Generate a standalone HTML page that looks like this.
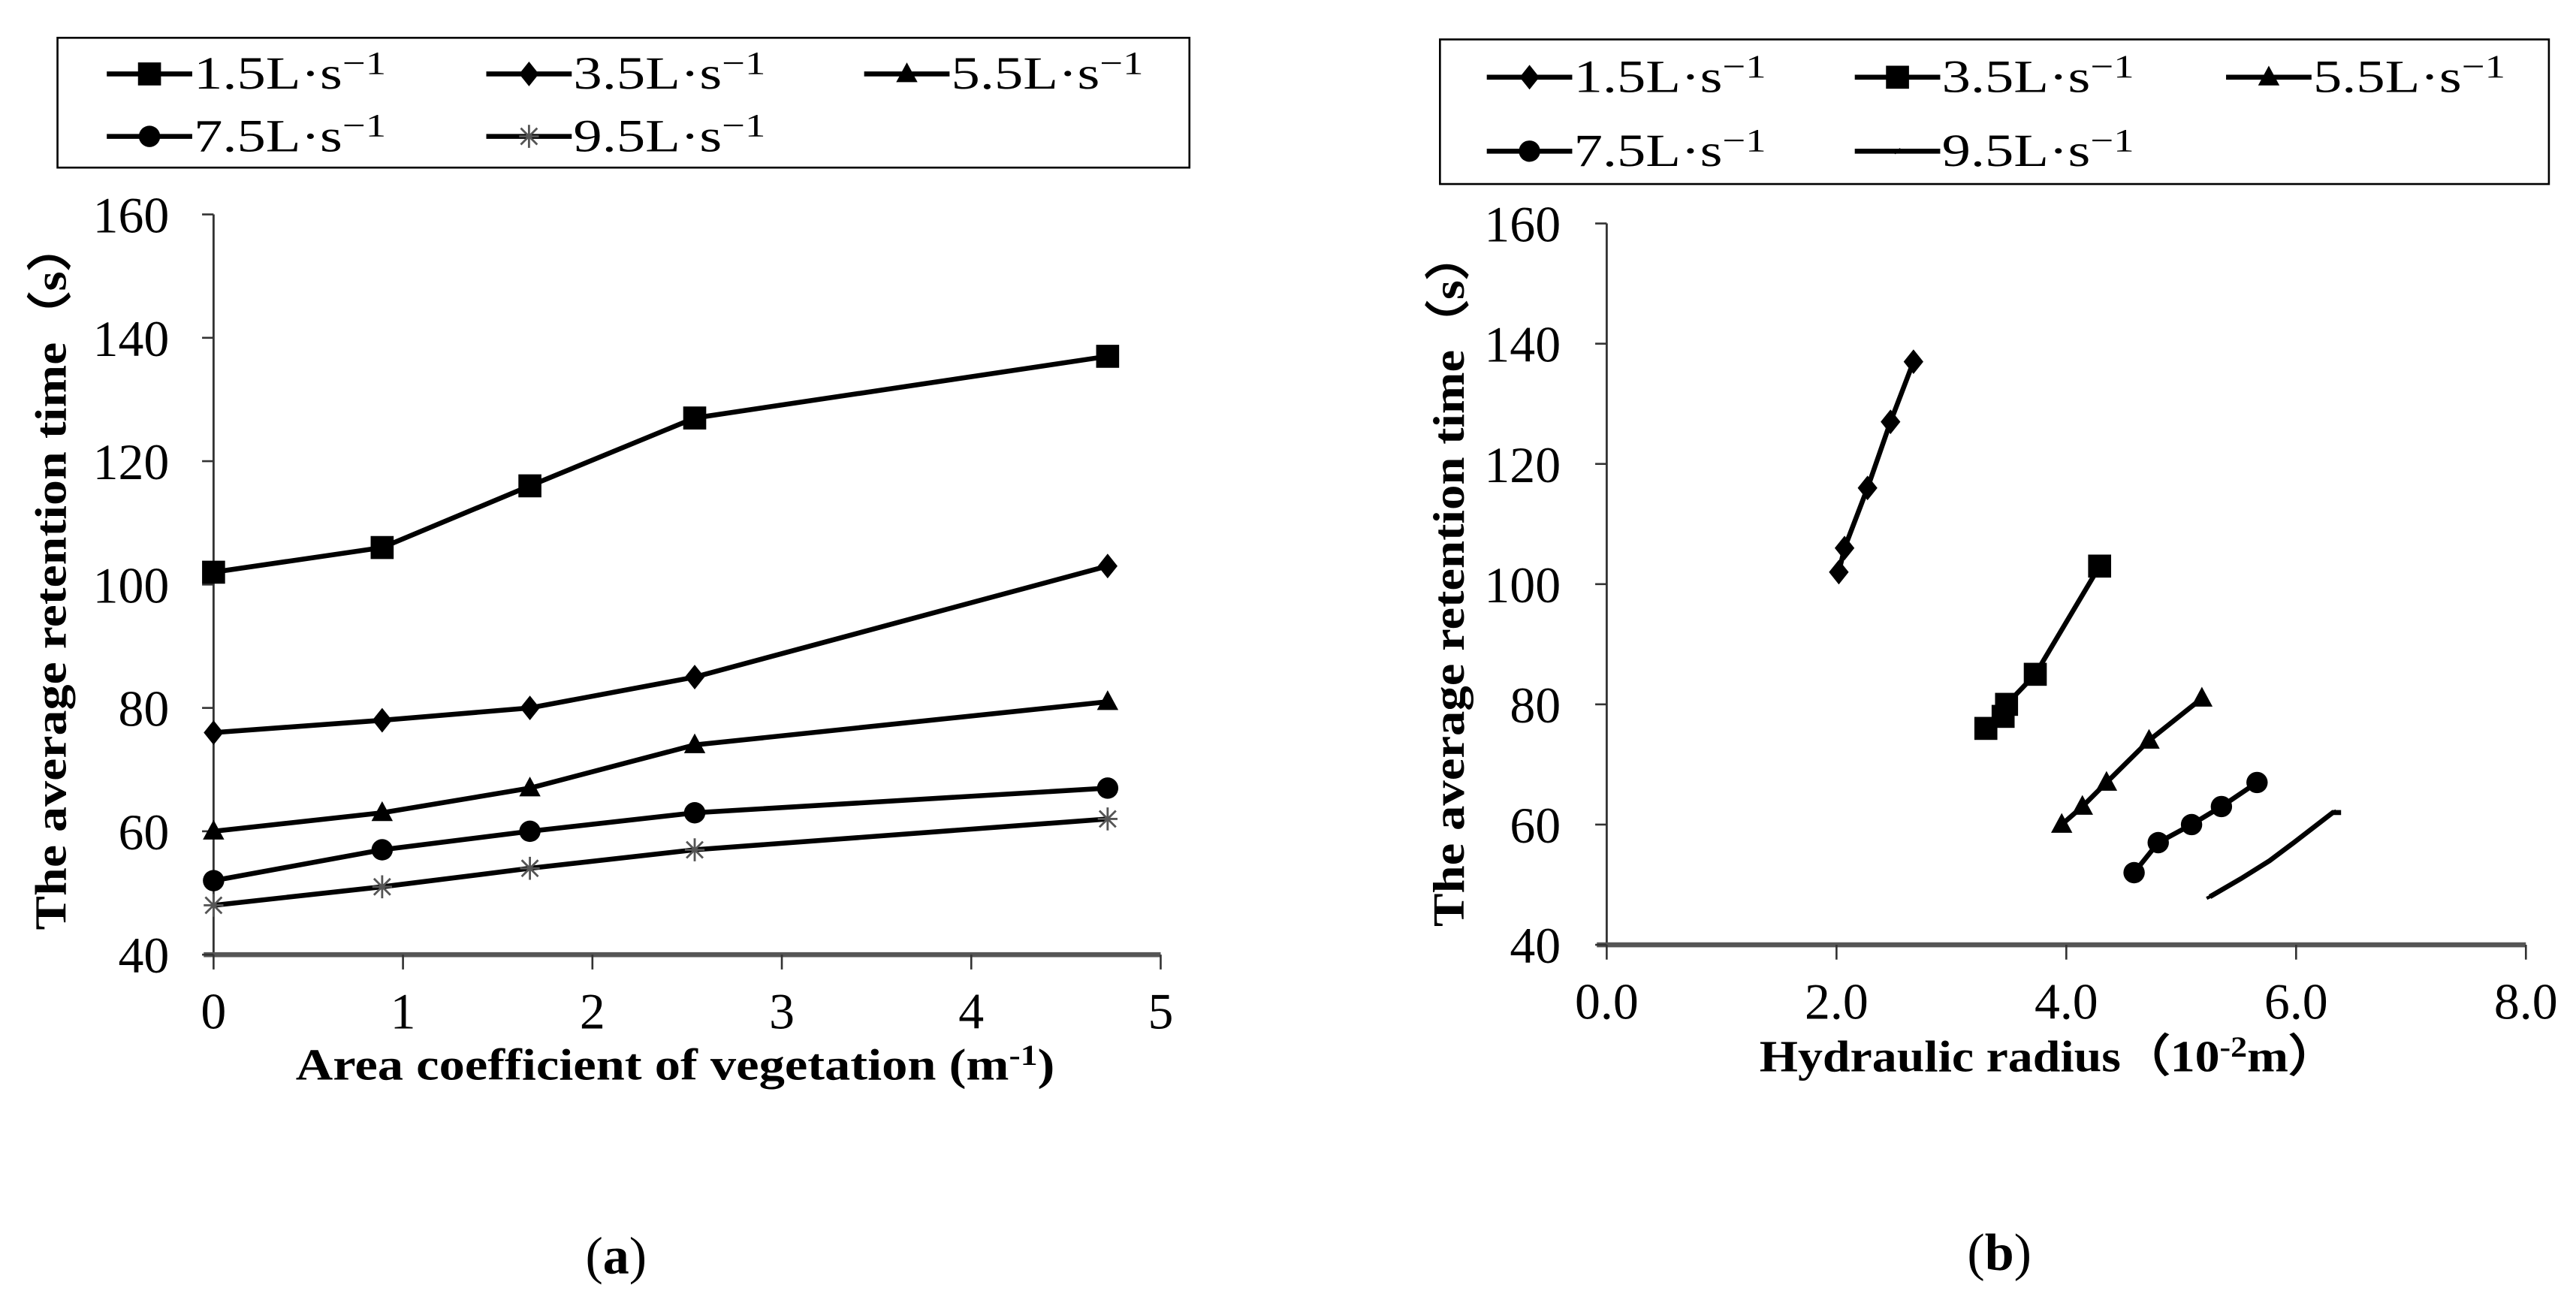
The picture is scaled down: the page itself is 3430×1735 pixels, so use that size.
<!DOCTYPE html>
<html><head><meta charset="utf-8"><style>
html,body{margin:0;padding:0;background:#fff;}
svg{display:block;}
text{font-family:"Liberation Serif",serif;fill:#000;}
</style></head><body>
<svg id="fig" width="3430" height="1735" viewBox="0 0 1568 793" preserveAspectRatio="none" xmlns="http://www.w3.org/2000/svg">
<g id="pa"></g>
<g id="pb"></g>
<text x="375" y="775" font-size="32" text-anchor="middle">(<tspan font-weight="bold">a</tspan>)</text>
<text x="1217" y="773" font-size="32" text-anchor="middle">(<tspan font-weight="bold">b</tspan>)</text>
</svg>
<script>
const NS="http://www.w3.org/2000/svg";
// ---- data chart a ----
const aCoef=[0,0.89,1.67,2.54,4.72];
const aS15=[102,106,116,127,137];
const aS35=[76,78,80,85,103];
const aS55=[60,63,67,74,81];
const aS75=[52,57,60,63,67];
const aS95=[48,51,54,57,62];
const aXTicks=["0","1","2","3","4","5"];
const yTicks=["40","60","80","100","120","140","160"];
// ---- data chart b ----
const bX15=[2.02,2.07,2.27,2.47,2.67];
const bX35=[3.30,3.45,3.48,3.73,4.29];
const bX55=[3.96,4.14,4.35,4.72,5.18];
const bX75=[4.59,4.80,5.09,5.35,5.66];
const bX95=[5.25,5.52,5.77,5.98,6.32];
const bY15=[102,106,116,127,137];
const bY35=[76,78,80,85,103];
const bY55=[60,63,67,74,81];
const bY75=[52,57,60,63,67];
const bY95=[48,51,54,57,62];
const bXTicks=["0.0","2.0","4.0","6.0","8.0"];
const seriesNames=["1.5","3.5","5.5","7.5","9.5"];

function el(tag,attrs,parent){const e=document.createElementNS(NS,tag);for(const k in attrs)e.setAttribute(k,attrs[k]);parent.appendChild(e);return e;}
function marker(g,type,x,y){
  let m;
  if(type==="square"){m=el("rect",{x:x-7,y:y-7,width:14,height:14,fill:"#000"},g);}
  else if(type==="diamond"){m=el("polygon",{points:`${x},${y-7.5} ${x+6},${y} ${x},${y+7.5} ${x-6},${y}`,fill:"#000"},g);}
  else if(type==="triangle"){m=el("polygon",{points:`${x},${y-7} ${x+6.5},${y+5} ${x-6.5},${y+5}`,fill:"#000"},g);}
  else if(type==="circle"){m=el("circle",{cx:x,cy:y,r:6.5,fill:"#000"},g);}
  else if(type==="star"){m=el("path",{d:`M${x-6},${y}H${x+6}M${x},${y-7}V${y+7}M${x-5},${y-5}L${x+5},${y+5}M${x-5},${y+5}L${x+5},${y-5}`,stroke:"#555","stroke-width":1.3,fill:"none"},g);}
  else if(type==="dash"){m=el("path",{d:`M${x-2},${y+1}L${x+2},${y-1}`,stroke:"#000","stroke-width":2},g);}
  if(m){
  }
}
function legendText(g,x,y,name){
  const t=el("text",{x:x,y:y+9,"font-size":28,textLength:117,lengthAdjust:"spacingAndGlyphs"},g);
  
  
  t.textContent=name+"L·s";
  const s=el("tspan",{dy:-9,"font-size":20},t);s.textContent="−1";
}
function chart(g,opt){
  const X=v=>opt.x0+(v-opt.xmin)/(opt.xmax-opt.xmin)*(opt.x1-opt.x0);
  const Y=v=>opt.y0-(v-40)/120*(opt.y0-opt.y1);
  const lb=el("rect",{x:opt.lg[0],y:opt.lg[1],width:opt.lg[2],height:opt.lg[3],fill:"#fff",stroke:"#000","stroke-width":1.2},g);
  
  
  const ya=el("line",{x1:opt.x0,y1:opt.y1,x2:opt.x0,y2:opt.y0,stroke:"#333","stroke-width":1.3},g);
  
  
  const xa=el("line",{x1:opt.x0-6,y1:opt.y0,x2:opt.x1,y2:opt.y0,stroke:"#555","stroke-width":3},g);
  
  
  yTicks.forEach(t=>{const y=Y(+t);
    el("line",{x1:opt.x0-7,y1:y,x2:opt.x0,y2:y,stroke:"#333","stroke-width":1.2},g);
    const tx=el("text",{x:opt.ylx,y:y+11,"font-size":31,"text-anchor":"end"},g);
    
    
    tx.textContent=t;});
  opt.xt.forEach(t=>{const x=X(+t);
    el("line",{x1:x,y1:opt.y0,x2:x,y2:opt.y0+9,stroke:"#333","stroke-width":1.2},g);
    const tx=el("text",{x:x,y:opt.xly,"font-size":31,"text-anchor":"middle"},g);
    
    
    tx.textContent=t;});
  opt.series.forEach((s,i)=>{
    const sg=el("g",{},g);
    
    
    const pts=s.x.map((v,j)=>X(v)+","+Y(s.y[j]));
    if(s.tail) pts.push((X(s.x[s.x.length-1])+5)+","+Y(s.y[s.y.length-1]));
    el("polyline",{points:pts.join(" "),fill:"none",stroke:"#000","stroke-width":3},sg);
    s.x.forEach((v,j)=>marker(sg,s.m,X(v),Y(s.y[j])));
    const [lx,ly]=opt.legPos[i];
    const le=el("g",{},g);
    
    
    el("line",{x1:lx,y1:ly,x2:lx+52,y2:ly,stroke:"#000","stroke-width":3},le);
    marker(le,s.m,lx+26,ly);
    legendText(le,lx+53,ly,seriesNames[i]);
  });
}
chart(document.getElementById("pa"),{
  x0:130,x1:706.5,y0:581,y1:130.5,xmin:0,xmax:5,ylx:103,xly:626,xt:aXTicks,
  lg:[35,23,689,79],
  legPos:[[65,45],[296,45],[526,45],[65,83],[296,83]],
  series:[{x:aCoef,y:aS15,m:"square"},{x:aCoef,y:aS35,m:"diamond"},{x:aCoef,y:aS55,m:"triangle"},{x:aCoef,y:aS75,m:"circle"},{x:aCoef,y:aS95,m:"star"}]
});
chart(document.getElementById("pb"),{
  x0:978,x1:1537.5,y0:575,y1:136,xmin:0,xmax:8,ylx:950,xly:620,xt:bXTicks,
  lg:[876.5,24,675,88],
  legPos:[[905,47],[1129,47],[1355,47],[905,92],[1129,92]],
  series:[{x:bX15,y:bY15,m:"diamond"},{x:bX35,y:bY35,m:"square"},{x:bX55,y:bY55,m:"triangle"},{x:bX75,y:bY75,m:"circle"},{x:bX95,y:bY95,m:"dash",tail:true}]
});
const fig=document.getElementById("fig");
function title(name,x,y,rot,len,parts){
  const t=el("text",{x:x,y:y,"font-size":27,"font-weight":"bold","text-anchor":"middle",textLength:len,lengthAdjust:"spacingAndGlyphs",transform:rot?`rotate(-90 ${x} ${y})`:""},fig);
  
  
  parts.forEach(p=>{const s=el("tspan",p.a||{},t);s.textContent=p.t;});
}
title("x-axis-title-a",411,657,false,462,[{t:"Area coefficient of vegetation (m"},{t:"-1",a:{dy:-9,"font-size":18}},{t:")",a:{dy:9}}]);
title("x-axis-title-b",1247,652,false,352,[{t:"Hydraulic radius（10"},{t:"-2",a:{dy:-9,"font-size":18}},{t:"m）",a:{dy:9}}]);
title("y-axis-title-a",40,350,true,432,[{t:"The average retention  time（s）"}]);
title("y-axis-title-b",891,352,true,424,[{t:"The average retention time（s）"}]);
</script>
</body></html>
